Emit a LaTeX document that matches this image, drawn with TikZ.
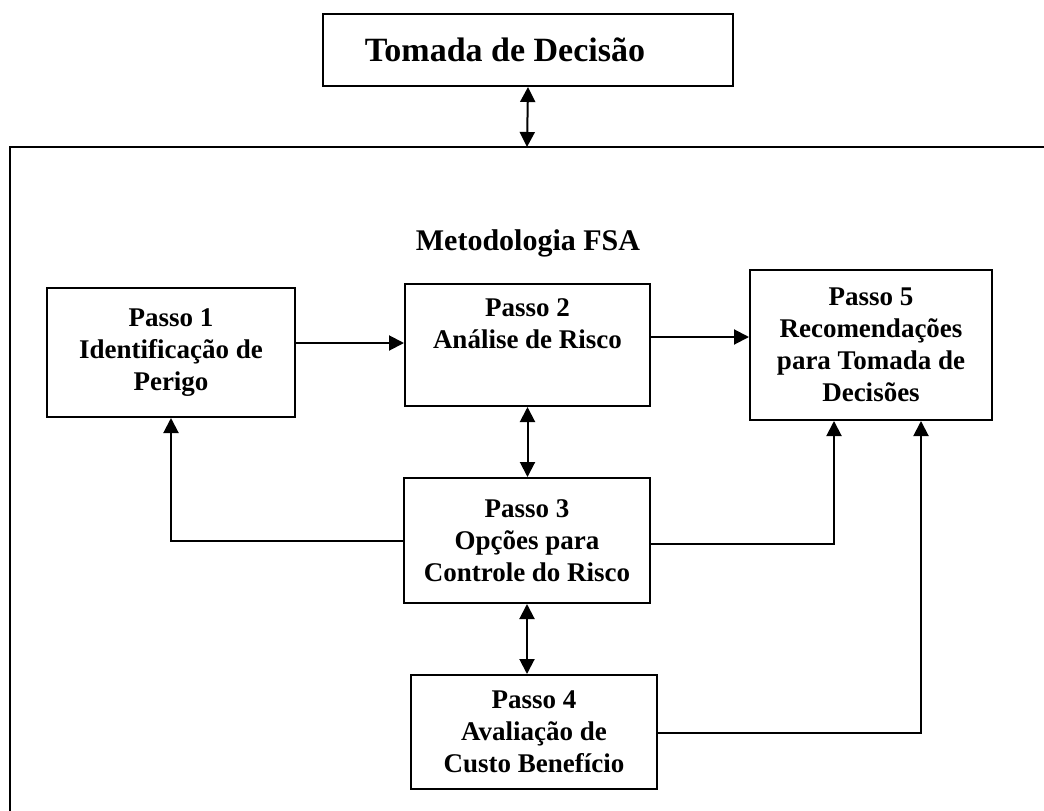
\documentclass[tikz,border=0pt]{standalone}
\usepackage{fontspec}
\setmainfont{Liberation Serif}
\usetikzlibrary{arrows.meta}
\begin{document}
\begin{tikzpicture}[x=1pt,y=-1pt,
  line width=2pt,
  box/.style={draw, line width=2pt, rectangle, inner sep=0pt},
  boxtext/.style={align=center, font=\fontsize{27}{32}\selectfont\bfseries},
  tip/.style={-{Triangle[width=15pt,length=15pt]}},
  dtip/.style={{Triangle[width=15pt,length=15pt]}-{Triangle[width=15pt,length=15pt]}}]
  \useasboundingbox (0,0) rectangle (1044,811);
  \clip (0,0) rectangle (1044,811);

  % outer frame of the methodology (runs past the page on the right and bottom)
  \draw[line width=1.6pt] (10,900) -- (10,147) -- (1100,147);
  \coordinate (frametop) at (527,147);
  \node[font=\fontsize{30}{34}\selectfont\bfseries] (fsa) at (528,243) {Metodologia FSA};

  % decision box, its title set a little left of centre
  \node[box, minimum width=410pt, minimum height=72pt] (top) at (528,50) {};
  \node[font=\fontsize{34}{38}\selectfont\bfseries] (topt) at ([xshift=-23pt]top.center) {Tomada de Decisão};

  % the five steps
  \node[box, boxtext, minimum width=248pt, minimum height=129pt] (p1) at (171,352.5)
    {Passo 1\\Identificação de\\Perigo};
  \node[box, minimum width=245pt, minimum height=122pt] (p2) at (527.5,345) {};
  \node[boxtext, anchor=north] (p2t) at ([yshift=-11pt]p2.north) {Passo 2\\Análise de Risco};
  \node[box, boxtext, minimum width=246pt, minimum height=125pt] (p3) at (527,540.5)
    {Passo 3\\Opções para\\Controle do Risco};
  \node[box, boxtext, minimum width=246pt, minimum height=114pt] (p4) at (534,732)
    {Passo 4\\Avaliação de\\Custo Benefício};
  \node[box, boxtext, minimum width=242pt, minimum height=150pt] (p5) at (871,345)
    {Passo 5\\Recomendações\\para Tomada de\\Decisões};

  % connectors
  \draw[dtip] (top.south) -- (frametop);
  \draw[tip] ([yshift=9.5pt]p1.east) -- ([yshift=9.5pt]p1.east -| p2.west);
  \draw[tip] ([yshift=8pt]p2.east) -- ([yshift=8pt]p5.west);
  \draw[dtip] (p2.south) -- (p2.south |- p3.north);
  \draw[dtip] (p3.south) -- (p3.south |- p4.north);
  \draw[tip] (p3.west) -| (p1.south);
  \draw[tip] ([yshift=-3.5pt]p3.east) -| ([xshift=-37pt]p5.south);
  \draw[tip] ([yshift=-1pt]p4.east) -| ([xshift=50pt]p5.south);
\end{tikzpicture}
\end{document}
